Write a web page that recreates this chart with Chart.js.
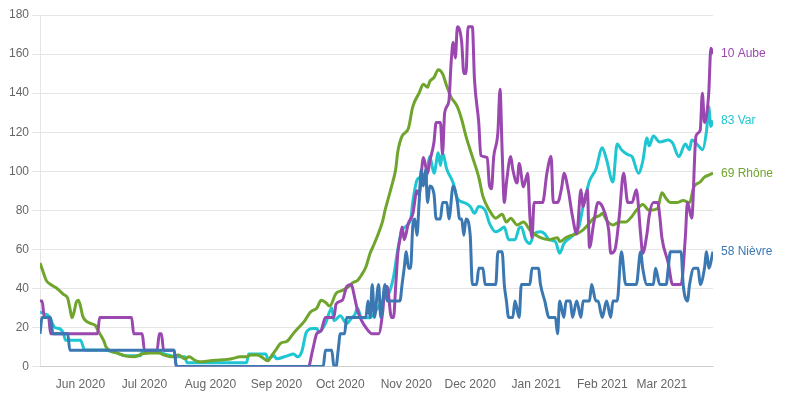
<!DOCTYPE html>
<html>
<head>
<meta charset="utf-8">
<script src="https://cdn.jsdelivr.net/npm/chart.js@4.4.1/dist/chart.umd.min.js"></script>
<style>
  html, body { margin: 0; padding: 0; background: #fff; }
  #wrap { width: 789px; height: 399px; position: relative; }
</style>
</head>
<body>
<div id="wrap"><canvas id="lineChart"></canvas></div>
<script>
// day 0 = 13 May 2020
const monthDays = [19, 49, 80, 111, 141, 172, 202, 233, 264, 292];
const monthLabels = ['Jun 2020', 'Jul 2020', 'Aug 2020', 'Sep 2020', 'Oct 2020', 'Nov 2020', 'Dec 2020', 'Jan 2021', 'Feb 2021', 'Mar 2021'];

const nievreDays = [0,1,5,6,13,14,63,64,133,134,137,138,139,140,141,143,144,153,154,155,156,157,159,160,162,163,169,170,171,172,173,174,175,176,177,178,179,180,181,182,183,185,186,188,189,191,192,194,196,197,198,199,200,202,203,205,206,208,209,214,215,217,218,219,220,222,223,225,226,230,231,234,235,237,239,242,243,244,246,247,249,250,252,254,255,258,259,261,262,264,266,268,269,271,273,275,280,282,283,285,288,289,291,294,295,296,301,302,304,305,307,309,310,312,313,314,316];
const nievreVals = [16.8,25.2,25.2,16.8,16.8,8.4,8.4,0,0,8.4,8.4,0,0,8.4,16.8,16.8,25.2,25.2,33.6,25.2,42,25.2,42,25.2,42,33.6,33.6,42,50.4,58.8,50.4,50.4,71.4,75.6,67.2,84,100.8,92.4,100.8,84,92.4,88.2,75.6,75.6,84,84,75.6,92.4,84,75.6,75.6,67.2,75.6,67.2,42,42,50.4,50.4,42,42,58.8,58.8,42,33.6,25.2,25.2,33.6,25.2,42,42,50.4,50.4,42,33.6,25.2,25.2,16.8,33.6,25.2,33.6,33.6,25.2,33.6,25.2,33.6,33.6,42,33.6,33.6,25.2,33.6,25.2,33.6,33.6,58.8,42,42,58.8,50.4,42,42,50.4,42,42,50.4,58.8,58.8,42,33.6,42,50.4,50.4,42,50.4,58.8,50.4,58.8];

const aubeDays = [0,1,2,4,5,27,28,43,44,48,49,55,56,57,58,63,64,126,128,130,132,134,138,139,142,144,146,148,149,151,153,156,159,161,162,163,165,166,167,168,169,170,171,173,175,177,178,180,182,183,185,186,188,189,190,192,193,194,195,196,198,199,200,201,203,204,206,207,210,211,212,213,215,216,217,218,219,221,222,224,225,227,229,230,231,232,236,238,240,241,243,245,246,248,250,252,254,255,257,258,260,262,264,267,268,270,272,274,276,278,280,282,283,285,286,288,290,291,292,295,297,301,303,304,306,308,310,311,312,314,315,316];
const aubeVals = [33.6,33.6,25.2,25.2,16.8,16.8,25.2,25.2,16.8,16.8,8.4,8.4,16.8,16.8,8.4,8.4,0,0,8.4,17,18.5,25.2,25.2,32,34,41,42,34,29,23.5,20,16.8,16.8,29,41,41,25.2,25.2,41,58,65,71.5,65,73.5,78,90,88,107,99,105,115,125,125,109,130,136,155,166,158,174,166,150,150,174,174,147,125,108,107,93,91,107,120,142,110,84,94,107.5,101,94,104,92,99,77,66,84,84,99,107.5,84,84,92,99,90.5,77,68,90.5,82,90.5,61,73.5,84,82,70,58,60,77,99,84,84,90.5,68,58,68,77,84,84,77,66,53,42,42,66,84,76,118,121,140,125,140,163,160];

const rhoneDays = [0,1,3,5,8,11,13,14,15,16,17,18,19,20,21,24,26,27,28,30,31,33,36,40,44,48,52,56,58,62,65,68,70,73,75,80,86,90,94,97,99,102,104,107,109,111,113,116,119,121,124,127,130,132,134,136,139,142,145,147,149,151,153,155,157,160,161,162,163,165,167,168,170,173,175,178,180,182,183,185,187,189,191,193,196,198,200,203,206,208,211,214,217,219,221,224,227,230,232,235,239,243,244,247,249,252,255,258,260,263,264,266,269,272,275,278,280,283,286,290,292,294,296,299,302,305,307,310,312,314,316];
const rhoneVals = [53,50,44,42,40,37,35,30,25,28,33,34,31,26,24,22,21,19,17,13,10,8,7,5.5,5,6.5,7,7,6,5,6,4,5,3,2.5,3,3.5,4,5,5,6,6,5,3,6,9,12,13,17,19.5,23,28,30,34,33,31,37.5,39,41,43,44,47,51,58,63,71.5,75,80,84,92,101,110,118,122,133,140,144.5,143,146,148,152,150,143.5,138,133,126.5,118,107.5,97,87,80,76,78,74,76,72.5,74,70,68,66,65,66,64,66,67,68,70,73.5,76,77.5,78.5,75,72.5,74,74,77,80,83,80,81,89,86,84,84,85,84,92,94.5,97,98,99];

const varDays = [0,2,4,7,9,11,12,19,21,30,36,40,47,48,57,60,64,68,69,97,98,106,107,110,111,116,119,121,123,125,128,130,131,134,137,138,141,144,146,148,149,151,155,158,161,164,166,168,170,174,175,177,179,181,182,183,185,187,188,189,191,194,196,199,202,204,206,209,211,214,216,218,220,223,225,226,228,230,232,235,237,239,242,244,246,249,251,253,255,257,258,261,264,266,269,271,273,276,278,281,283,285,286,288,291,295,297,300,303,305,306,310,311,313,314,315,316];
const varVals = [28,27,26,20,19.5,17,13.5,13.5,8.5,8.5,7,5.5,5.5,7.5,7,6,5,5,2,2,6.5,6.5,4,5.5,4,5.5,6.5,5,8,17.5,19.5,19.5,17.5,22,30,23.5,26,22,24.5,27,30,25,25,29,34,38,46,60,70,75,84,95.5,97,94,102,107.5,99,109.5,103,109.5,101,94,86,84,82,78.5,82,80,73.5,69,70,71.5,65,65,71,71.5,65,63,68,69,68,65,64,58,63,66,68,71.5,82,91,95,101,112,106,94.5,114,111,108.5,107.5,99,105,117,113,118,115,116,114.5,107.5,114,111,116,112,111,121,133,123,126];

function toPoints(days, vals) {
  return days.map((d, i) => ({ x: d, y: vals[i] }));
}

function makeSet(label, color, days, vals) {
  return {
    label: label,
    data: toPoints(days, vals),
    borderColor: color,
    backgroundColor: color,
    borderWidth: 3,
    pointRadius: 0,
    fill: false,
    cubicInterpolationMode: 'monotone'
  };
}

// series names drawn at the right end of each line
const endLabels = {
  id: 'endLabels',
  afterDatasetsDraw(chart) {
    const ctx = chart.ctx;
    ctx.save();
    ctx.font = '12px "Liberation Sans", Arial, sans-serif';
    ctx.textBaseline = 'middle';
    ctx.textAlign = 'left';
    chart.data.datasets.forEach((ds, i) => {
      const pts = chart.getDatasetMeta(i).data;
      const last = pts[pts.length - 1];
      ctx.fillStyle = ds.borderColor;
      ctx.fillText(ds.label, chart.chartArea.right + 8, last.y);
    });
    ctx.restore();
  }
};

function renderLineChart() {
  Chart.defaults.font.family = '"Liberation Sans", Arial, sans-serif';
  Chart.defaults.font.size = 12;
  Chart.defaults.color = '#666';

  new Chart(document.getElementById('lineChart'), {
    type: 'line',
    data: {
      datasets: [
        makeSet('58 Nièvre', '#3b78b2', nievreDays, nievreVals),
        makeSet('10 Aube', '#9a48b0', aubeDays, aubeVals),
        makeSet('69 Rhône', '#6fa52c', rhoneDays, rhoneVals),
        makeSet('83 Var', '#1ec6d2', varDays, varVals)
      ]
    },
    options: {
      responsive: true,
      maintainAspectRatio: false,
      animation: false,
      layout: { padding: { top: 15, right: 76, left: 6, bottom: 4 } },
      plugins: {
        legend: { display: false },
        tooltip: { enabled: false }
      },
      scales: {
        x: {
          type: 'linear',
          min: 0,
          max: 316,
          grid: { display: false },
          afterBuildTicks: (axis) => {
            axis.ticks = monthDays.map(v => ({ value: v }));
          },
          ticks: {
            autoSkip: false,
            maxRotation: 0,
            callback: (value) => monthLabels[monthDays.indexOf(value)]
          }
        },
        y: {
          min: 0,
          max: 180,
          ticks: { stepSize: 20 }
        }
      }
    },
    plugins: [endLabels]
  });
}

renderLineChart();
</script>
</body>
</html>
